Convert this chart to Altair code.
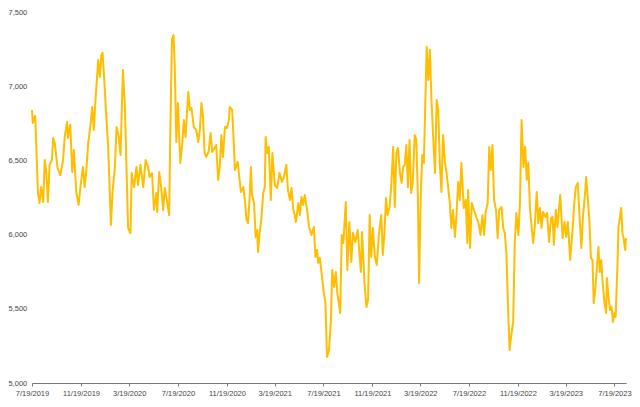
import altair as alt
import pandas as pd

dates = [
"2019-07-19","2019-07-21","2019-07-27","2019-08-03","2019-08-07","2019-08-11","2019-08-16","2019-08-20","2019-08-24","2019-08-28",
"2019-09-01","2019-09-07","2019-09-10","2019-09-14","2019-09-21","2019-09-28","2019-10-05","2019-10-09","2019-10-15","2019-10-17",
"2019-10-23","2019-10-28","2019-11-01","2019-11-07","2019-11-13","2019-11-18","2019-11-24","2019-11-28","2019-12-02","2019-12-07",
"2019-12-12","2019-12-17","2019-12-21","2019-12-25","2020-01-01","2020-01-05","2020-01-09","2020-01-12","2020-01-16","2020-01-20",
"2020-01-26","2020-02-02","2020-02-06","2020-02-12","2020-02-16","2020-02-22","2020-02-26","2020-02-28","2020-03-03","2020-03-08",
"2020-03-16","2020-03-22","2020-03-25","2020-03-31","2020-04-06","2020-04-10","2020-04-16","2020-04-23","2020-04-29","2020-05-05",
"2020-05-09","2020-05-15","2020-05-20","2020-05-26","2020-05-28","2020-06-02","2020-06-07","2020-06-12","2020-06-16","2020-06-22",
"2020-06-27","2020-06-30","2020-07-04","2020-07-08","2020-07-11","2020-07-15","2020-07-19","2020-07-25","2020-07-30","2020-08-03",
"2020-08-07","2020-08-14","2020-08-18","2020-08-22","2020-08-28","2020-09-03","2020-09-08","2020-09-12","2020-09-16","2020-09-20",
"2020-09-24","2020-09-28","2020-10-04","2020-10-09","2020-10-13","2020-10-19","2020-10-23","2020-10-28","2020-11-01","2020-11-05",
"2020-11-09","2020-11-14","2020-11-19","2020-11-24","2020-11-26","2020-12-02","2020-12-05","2020-12-09","2020-12-16","2020-12-24",
"2020-12-30","2021-01-03","2021-01-07","2021-01-11","2021-01-15","2021-01-18","2021-01-21","2021-01-26","2021-01-30","2021-02-03",
"2021-02-05","2021-02-09","2021-02-13","2021-02-18","2021-02-22","2021-02-24","2021-02-28","2021-03-04","2021-03-09","2021-03-13",
"2021-03-19","2021-03-25","2021-03-31","2021-04-06","2021-04-11","2021-04-17","2021-04-21","2021-04-26","2021-04-30","2021-05-04",
"2021-05-11","2021-05-17","2021-05-21","2021-05-25","2021-05-29","2021-06-02","2021-06-08","2021-06-13","2021-06-19","2021-06-25",
"2021-06-29","2021-07-03","2021-07-06","2021-07-10","2021-07-14","2021-07-20","2021-07-24","2021-07-28","2021-08-02","2021-08-07",
"2021-08-10","2021-08-15","2021-08-19","2021-08-23","2021-08-30","2021-09-03","2021-09-07","2021-09-13","2021-09-17","2021-09-22",
"2021-09-27","2021-10-01","2021-10-07","2021-10-13","2021-10-17","2021-10-21","2021-10-24","2021-10-30","2021-11-04","2021-11-08",
"2021-11-12","2021-11-16","2021-11-20","2021-11-25","2021-11-30","2021-12-05","2021-12-09","2021-12-11","2021-12-15","2021-12-19",
"2021-12-23","2021-12-27","2022-01-01","2022-01-05","2022-01-10","2022-01-14","2022-01-18","2022-01-22","2022-01-27","2022-01-31",
"2022-02-04","2022-02-08","2022-02-12","2022-02-16","2022-02-20","2022-02-24","2022-02-28","2022-03-05","2022-03-09","2022-03-13",
"2022-03-16","2022-03-20","2022-03-24","2022-03-28","2022-03-31","2022-04-04","2022-04-08","2022-04-12","2022-04-16","2022-04-21",
"2022-04-25","2022-04-29","2022-05-03","2022-05-07","2022-05-11","2022-05-15","2022-05-20","2022-05-24","2022-05-28","2022-06-01",
"2022-06-05","2022-06-09","2022-06-14","2022-06-18","2022-06-22","2022-06-26","2022-06-30","2022-07-06","2022-07-11","2022-07-15",
"2022-07-17","2022-07-22","2022-07-26","2022-08-03","2022-08-12","2022-08-17","2022-08-22","2022-08-26","2022-08-30","2022-09-04",
"2022-09-08","2022-09-12","2022-09-16","2022-09-20","2022-09-25","2022-09-29","2022-10-03","2022-10-09","2022-10-13","2022-10-17",
"2022-10-21","2022-10-25","2022-10-29","2022-11-03","2022-11-07","2022-11-11","2022-11-15","2022-11-20","2022-11-24","2022-11-28",
"2022-12-03","2022-12-07","2022-12-11","2022-12-15","2022-12-19","2022-12-27","2022-12-31","2023-01-05","2023-01-09","2023-01-13",
"2023-01-17","2023-01-21","2023-01-27","2023-01-31","2023-02-05","2023-02-10","2023-02-14","2023-02-17","2023-02-22","2023-02-26",
"2023-03-05","2023-03-11","2023-03-16","2023-03-20","2023-03-24","2023-03-30","2023-04-05","2023-04-09","2023-04-13","2023-04-18",
"2023-04-22","2023-04-27","2023-05-01","2023-05-07","2023-05-09","2023-05-13","2023-05-17","2023-05-21","2023-05-25","2023-05-28",
"2023-06-01","2023-06-05","2023-06-09","2023-06-12","2023-06-16","2023-06-19","2023-06-24","2023-06-28","2023-06-30","2023-07-04",
"2023-07-08","2023-07-12","2023-07-15","2023-07-19","2023-07-22","2023-07-27","2023-07-29","2023-08-02","2023-08-05","2023-08-08",
"2023-08-11","2023-08-15","2023-08-17",
]

values = [
6840,6752,6800,6280,6213,6320,6220,6503,6415,6220,
6470,6503,6651,6618,6450,6400,6503,6658,6760,6651,
6740,6422,6570,6287,6200,6335,6456,6320,6422,6618,
6720,6860,6705,6894,7177,7062,7211,7225,7055,6860,
6591,6065,6287,6456,6725,6658,6537,6725,7110,6860,
6045,6011,6415,6320,6456,6335,6470,6320,6503,6456,
6388,6415,6166,6280,6153,6422,6320,6166,6314,6220,
6132,6705,7312,7345,7143,6624,6887,6483,6618,6773,
6658,6961,6840,6853,6725,6705,6624,6705,6887,6793,
6550,6523,6557,6685,6557,6584,6604,6368,6456,6671,
6523,6725,6718,6773,6860,6840,6685,6436,6490,6287,
6320,6233,6099,6078,6254,6456,6267,6213,5984,6031,
5883,6011,6099,6280,6320,6658,6550,6591,6233,6550,
6335,6314,6415,6355,6388,6470,6300,6233,6314,6180,
6085,6213,6132,6254,6200,6267,6166,6051,5998,6051,
5849,5896,5809,5843,5748,5607,5546,5175,5222,5425,
5762,5647,5748,5607,5472,5998,5944,6220,5762,6085,
5816,6011,5950,6031,5883,5748,6018,5674,5512,5560,
6132,5849,6045,5849,5795,5998,6085,6132,5863,6011,
6247,6132,6186,6320,6591,6186,6550,6584,6415,6348,
6456,6470,6604,6320,6638,6280,6348,6671,6638,6254,
5674,6247,6537,6483,6820,7265,7042,7245,6907,6618,
6415,6907,6840,6483,6287,6671,6483,6415,6314,6213,
6045,6166,5984,6146,6355,6233,6483,6180,6233,5944,
6300,5910,6213,6146,6078,5998,6132,5998,6153,6213,
6591,6436,6604,6233,6166,5977,6166,6186,6045,6011,
5876,5512,5222,5337,5411,5944,6146,5998,6213,6773,
6456,6591,6368,6483,6180,5944,6045,6287,6078,6180,
6045,6153,6119,6146,5950,6112,6119,5930,6166,6051,
6267,5977,6085,5984,6085,5829,6031,6200,6320,6348,
6146,5910,6119,6300,6388,6254,6099,5843,5829,5539,
5627,5782,5917,5748,5829,5694,5539,5472,5708,5580,
5492,5512,5411,5472,5445,5829,6051,6119,6180,6011,
5977,5896,5977,
]

tick_dates = [
(2019,7,19),(2019,11,19),(2020,3,19),(2020,7,19),(2020,11,19),(2021,3,19),(2021,7,19),
(2021,11,19),(2022,3,19),(2022,7,19),(2022,11,19),(2023,3,19),(2023,7,19),
]
y_ticks = [5000, 5500, 6000, 6500, 7000, 7500]

df = pd.DataFrame({"date": dates, "value": values})

x_vals = [alt.DateTime(year=y, month=m, date=d, utc=True) for (y, m, d) in tick_dates]

chart = alt.Chart(df).mark_line(color="#FFBE00", strokeWidth=2, strokeJoin="round").encode(
    x=alt.X("date:T",
            scale=alt.Scale(type="utc",
                            domain=[alt.DateTime(year=2019, month=7, date=19, utc=True),
                                    alt.DateTime(year=2023, month=8, date=17, utc=True)]),
            axis=alt.Axis(values=x_vals, labelExpr="utcFormat(datum.value, '%-m/%-d/%Y')",
                          title=None, grid=False, domainColor="#777", tickColor="#777",
                          tickSize=3, labelPadding=3, labelFontSize=7.5, labelColor="#444",
                          labelFont="Liberation Sans", labelFlush=False)),
    y=alt.Y("value:Q",
            scale=alt.Scale(domain=[5000, 7500], nice=False, zero=False),
            axis=alt.Axis(values=y_ticks, format=",.0f", title=None, grid=False, domain=False,
                          ticks=False, labelAlign="left", labelPadding=24, labelFontSize=7.5,
                          labelColor="#444", labelFont="Liberation Sans")),
).properties(
    width=594, height=371,
    autosize=alt.AutoSizeParams(type="none"),
    padding={"left": 24, "top": 4, "right": 6, "bottom": 16},
).configure_view(stroke=None)

chart.save("out.html", embed_options={"renderer": "svg", "actions": False})
